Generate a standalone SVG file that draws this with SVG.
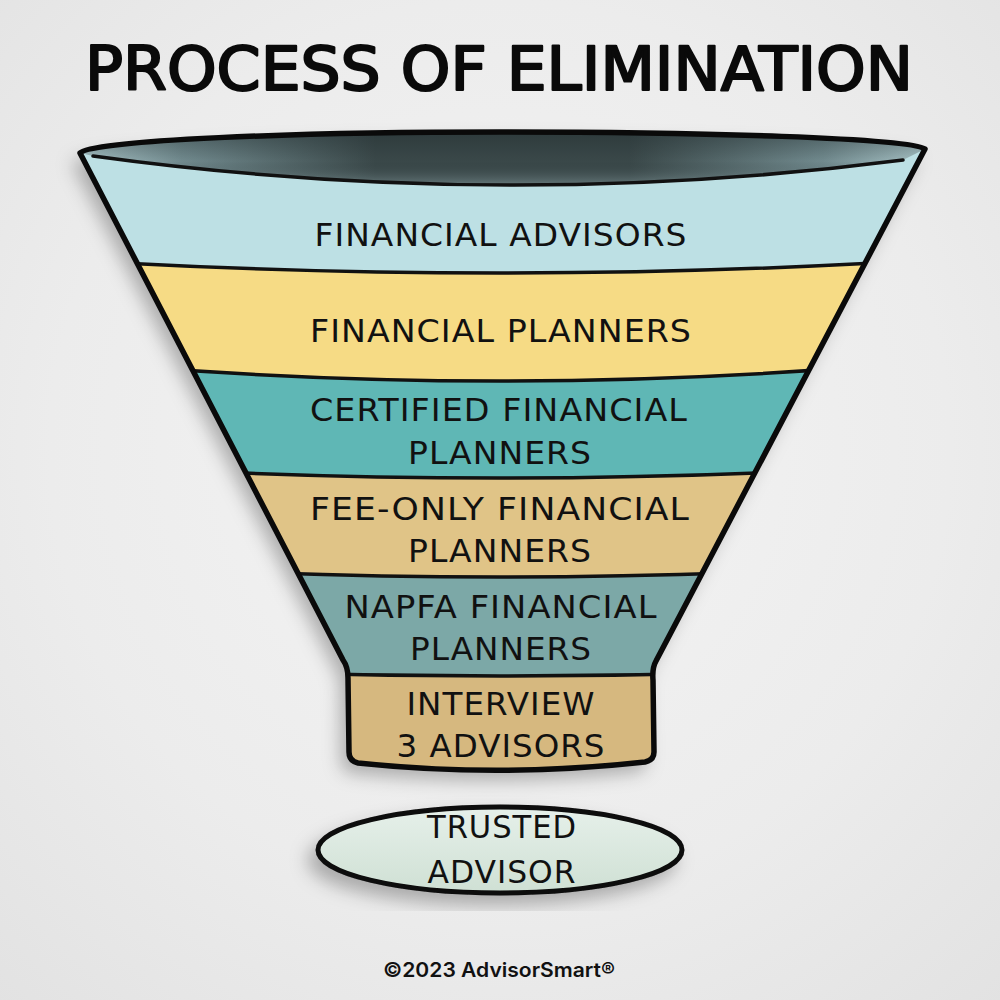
<svg xmlns="http://www.w3.org/2000/svg" width="1000" height="1000" viewBox="0 0 1000 1000">
<defs>
<style>
.lbl{font-family:"DejaVu Sans","Liberation Sans",sans-serif;font-size:32px;fill:#111;text-anchor:middle;letter-spacing:1px}
.bline{fill:none;stroke:#111;stroke-width:3.5;stroke-linecap:round}
.outline{fill:none;stroke:#0a0a0a;stroke-width:5.5;stroke-linejoin:round}
</style>
<radialGradient id="bg" cx="0.5" cy="0.45" r="0.75">
<stop offset="0" stop-color="#f4f4f4"/>
<stop offset="0.6" stop-color="#ececec"/>
<stop offset="1" stop-color="#e2e2e2"/>
</radialGradient>
<linearGradient id="holeH" x1="0" y1="0" x2="1" y2="0">
<stop offset="0" stop-color="#a8c3c6"/>
<stop offset="0.12" stop-color="#718a8e"/>
<stop offset="0.35" stop-color="#3a4849"/>
<stop offset="0.65" stop-color="#3a4849"/>
<stop offset="0.88" stop-color="#718a8e"/>
<stop offset="1" stop-color="#a8c3c6"/>
</linearGradient>
<linearGradient id="holeV" x1="0" y1="0" x2="0" y2="1">
<stop offset="0" stop-color="#1f2a2c" stop-opacity="0.45"/>
<stop offset="0.55" stop-color="#1f2a2c" stop-opacity="0"/>
<stop offset="1" stop-color="#9ab3b6" stop-opacity="0.45"/>
</linearGradient>
<linearGradient id="oval" x1="0" y1="0" x2="0" y2="1">
<stop offset="0" stop-color="#e6f0ea"/>
<stop offset="1" stop-color="#cfe0d4"/>
</linearGradient>
<filter id="shadow" x="-20%" y="-20%" width="140%" height="140%">
<feDropShadow dx="-8" dy="10" stdDeviation="9" flood-color="#000" flood-opacity="0.28"/>
</filter>
<clipPath id="funnelClip">
<path d="M80,153 C90,140 300,132 500,132 C700,132 910,138 925,149 L656,661 Q652,668 653,680 L654,752 Q654,760 645,762 Q500,778 358,763 Q349,761 349,752 L348,678 Q348,667 343,660 Z"/>
</clipPath>
</defs>

<rect x="0" y="0" width="1000" height="1000" fill="url(#bg)"/>

<g id="title">
<text x="499" y="90" font-family="DejaVu Sans, Liberation Sans, sans-serif" font-size="60" text-anchor="middle" fill="#0a0a0a" stroke="#0a0a0a" stroke-width="2.2" stroke-linejoin="round" textLength="828" lengthAdjust="spacingAndGlyphs">PROCESS OF ELIMINATION</text>
</g>

<g id="funnel">
<path filter="url(#shadow)" fill="#bde0e4" d="M80,153 C90,140 300,132 500,132 C700,132 910,138 925,149 L656,661 Q652,668 653,680 L654,752 Q654,760 645,762 Q500,778 358,763 Q349,761 349,752 L348,678 Q348,667 343,660 Z"/>
<g clip-path="url(#funnelClip)">
<g id="band-financial-advisors">
<path fill="#bde0e4" d="M40,120 L960,120 L960,258 Q500,288 40,258 Z"/>
</g>
<g id="band-financial-planners">
<path fill="#f6db85" d="M40,258 Q500,288 960,258 L960,358 Q500,404 40,358 Z"/>
</g>
<g id="band-certified">
<path fill="#5fb7b5" d="M40,358 Q500,404 960,358 L960,462 Q500,494 40,462 Z"/>
</g>
<g id="band-fee-only">
<path fill="#e0c487" d="M40,462 Q500,494 960,462 L960,561 Q500,593 40,561 Z"/>
</g>
<g id="band-napfa">
<path fill="#7ca8a7" d="M40,561 Q500,593 960,561 L960,664 Q500,688 40,664 Z"/>
</g>
<g id="band-interview">
<path fill="#d6b87f" d="M40,664 Q500,688 960,664 L960,800 L40,800 Z"/>
</g>
<path fill="url(#holeH)" d="M80,153 C90,140 300,132 500,132 C700,132 910,138 925,149 L903,160 Q500,212 93,156 Z"/>
<path fill="url(#holeV)" d="M80,153 C90,140 300,132 500,132 C700,132 910,138 925,149 L903,160 Q500,212 93,156 Z"/>
<path class="bline" d="M93,156 Q500,212 903,160"/>
<path class="bline" d="M40,258 Q500,288 960,258"/>
<path class="bline" d="M40,358 Q500,404 960,358"/>
<path class="bline" d="M40,462 Q500,494 960,462"/>
<path class="bline" d="M40,561 Q500,593 960,561"/>
<path class="bline" d="M40,664 Q500,688 960,664"/>
</g>
<path class="outline" d="M80,153 C90,140 300,132 500,132 C700,132 910,138 925,149 L656,661 Q652,668 653,680 L654,752 Q654,760 645,762 Q500,778 358,763 Q349,761 349,752 L348,678 Q348,667 343,660 Z"/>
</g>

<g id="labels">
<text class="lbl" x="501" y="246" textLength="373" lengthAdjust="spacingAndGlyphs">FINANCIAL ADVISORS</text>
<text class="lbl" x="501" y="342" textLength="382" lengthAdjust="spacingAndGlyphs">FINANCIAL PLANNERS</text>
<text class="lbl" x="499" y="421" textLength="378" lengthAdjust="spacingAndGlyphs">CERTIFIED FINANCIAL</text>
<text class="lbl" x="500" y="464" textLength="184" lengthAdjust="spacingAndGlyphs">PLANNERS</text>
<text class="lbl" x="500" y="520" textLength="380" lengthAdjust="spacingAndGlyphs">FEE-ONLY FINANCIAL</text>
<text class="lbl" x="500" y="562" textLength="184" lengthAdjust="spacingAndGlyphs">PLANNERS</text>
<text class="lbl" x="501" y="618" textLength="313" lengthAdjust="spacingAndGlyphs">NAPFA FINANCIAL</text>
<text class="lbl" x="501" y="660" textLength="182" lengthAdjust="spacingAndGlyphs">PLANNERS</text>
<text class="lbl" x="501" y="715" textLength="189" lengthAdjust="spacingAndGlyphs">INTERVIEW</text>
<text class="lbl" x="501" y="757" textLength="209" lengthAdjust="spacingAndGlyphs">3 ADVISORS</text>
</g>

<g id="trusted-advisor">
<ellipse cx="500" cy="850" rx="182" ry="43" fill="url(#oval)" stroke="#0a0a0a" stroke-width="5" filter="url(#shadow)"/>
<text class="lbl" x="502" y="838" textLength="150" lengthAdjust="spacingAndGlyphs">TRUSTED</text>
<text class="lbl" x="502" y="883" textLength="149" lengthAdjust="spacingAndGlyphs">ADVISOR</text>
</g>

<g id="connectors"></g>

<g id="copyright">
<text x="499" y="977" font-family="Inter, Liberation Sans, sans-serif" font-size="20" font-weight="600" text-anchor="middle" fill="#111" textLength="232" lengthAdjust="spacingAndGlyphs">©2023 AdvisorSmart®</text>
</g>
</svg>
